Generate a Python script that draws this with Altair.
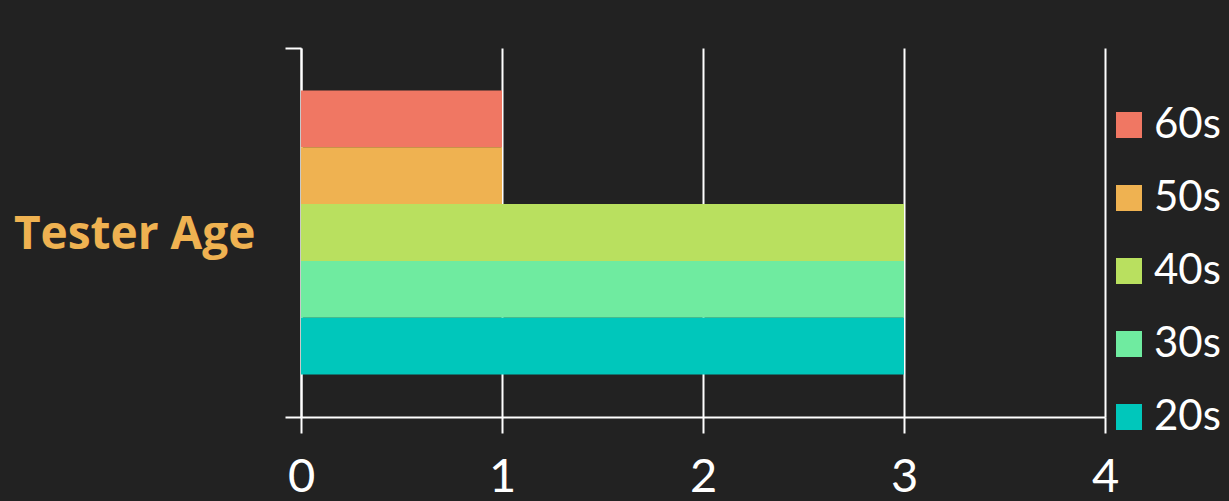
import altair as alt
import pandas as pd

ages = ["60s", "50s", "40s", "30s", "20s"]
counts = [1, 1, 3, 3, 3]
colors = ["#F07763", "#EFB251", "#B9E05F", "#6FEBA0", "#00C7BB"]
x_ticks = [0, 1, 2, 3, 4]

df = pd.DataFrame({"group": ["all"] * len(ages), "age": ages, "count": counts})

FONT = "Lato"
WHITE = "#FFFFFF"

chart = (
    alt.Chart(df)
    .mark_bar(strokeWidth=0)
    .encode(
        x=alt.X(
            "count:Q",
            scale=alt.Scale(domain=[0, 4], nice=False),
            axis=alt.Axis(
                values=x_ticks,
                title=None,
                grid=True,
                gridColor=WHITE,
                gridWidth=2,
                gridOpacity=1,
                labelFontSize=47,
                labelColor=WHITE,
                labelFont=FONT,
                labelFlush=False,
                labelPadding=21,
                tickColor=WHITE,
                tickWidth=2,
                tickSize=16,
                domainColor=WHITE,
                domainWidth=2,
            ),
        ),
        y=alt.Y(
            "group:N",
            scale=alt.Scale(paddingInner=0, paddingOuter=0),
            axis=alt.Axis(
                labels=False,
                tickBand="extent",
                ticks=True,
                tickSize=16,
                tickColor=WHITE,
                tickWidth=2,
                domainColor=WHITE,
                domainWidth=2,
                grid=False,
                title="Tester Age",
                titleAngle=0,
                titleAlign="right",
                titleBaseline="middle",
                titleX=-46,
                titleY=186,
                titleFontSize=46,
                titleFontWeight="bold",
                titleFont="Open Sans",
                titleColor="#EFB251",
            ),
        ),
        yOffset=alt.YOffset(
            "age:N", sort=ages, scale=alt.Scale(paddingOuter=0.75, paddingInner=0)
        ),
        color=alt.Color(
            "age:N",
            sort=ages,
            scale=alt.Scale(domain=ages, range=colors),
            legend=alt.Legend(
                title=None,
                orient="none",
                legendX=807,
                legendY=56,
                symbolType="square",
                symbolSize=676,
                symbolStrokeWidth=0,
                symbolOpacity=1,
                labelFontSize=42,
                labelFont=FONT,
                labelColor=WHITE,
                labelOffset=4,
                labelLimit=200,
                rowPadding=31,
            ),
        ),
    )
    .properties(
        width=804,
        height=369,
        background="#222222",
        padding={"left": 301, "top": 48, "right": 124, "bottom": 84},
        autosize=alt.AutoSizeParams(type="none"),
    )
    .configure_view(stroke=None)
)

chart.save("out.html", embed_options={"renderer": "svg", "actions": False})
